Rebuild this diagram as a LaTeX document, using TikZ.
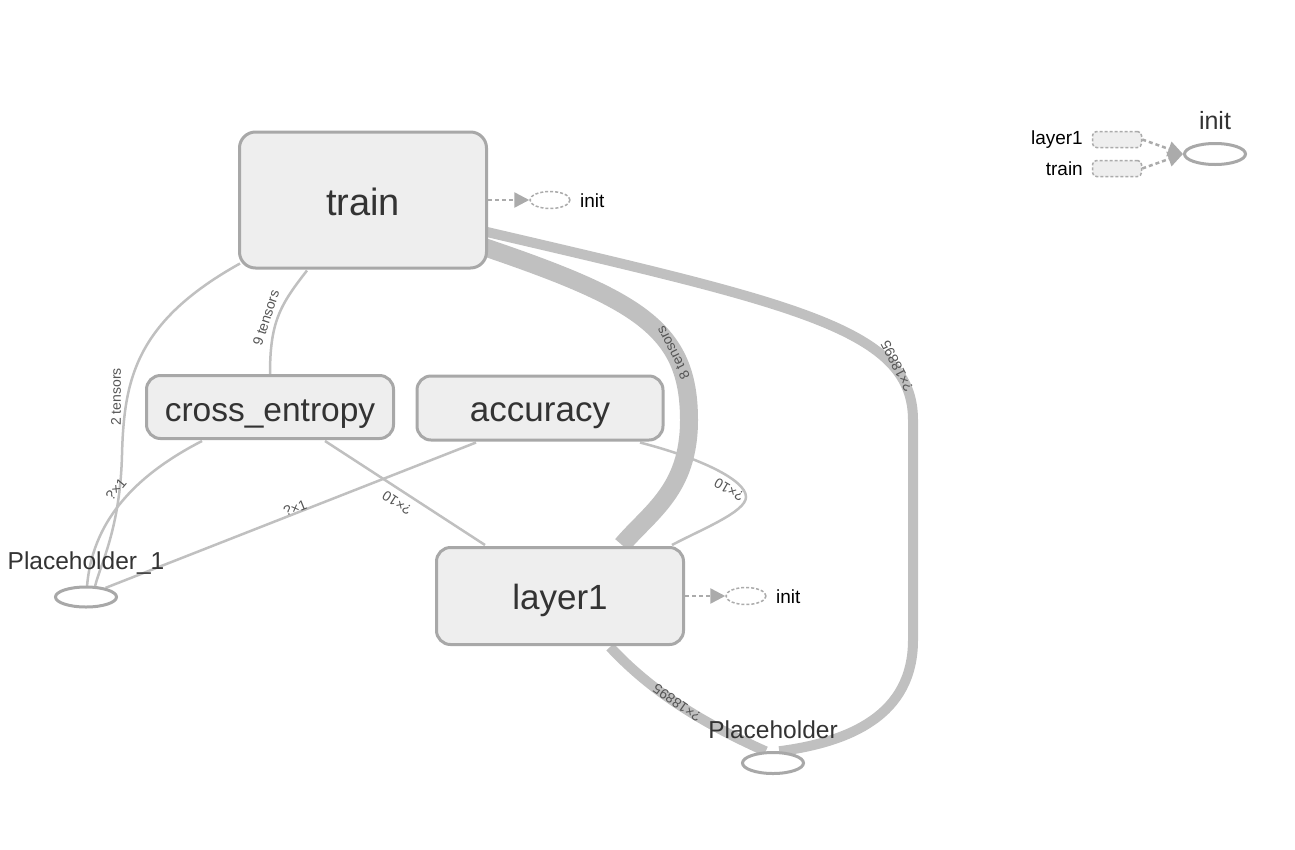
\documentclass[tikz,border=0pt]{standalone}
\usepackage{fontspec}
\setmainfont{Liberation Sans}
\usetikzlibrary{arrows.meta,calc,shapes.geometric}
\definecolor{nodefill}{HTML}{EEEEEE}
\definecolor{nodeborder}{HTML}{A8A8A8}
\definecolor{edgecol}{HTML}{C0C0C0}
\definecolor{txt}{HTML}{333333}
\definecolor{etxt}{HTML}{555555}
\definecolor{dotcol}{HTML}{ABABAB}
\pgfdeclarelayer{edgelayer}
\pgfdeclarelayer{labellayer}
\pgfsetlayers{edgelayer,main,labellayer}
\begin{document}
\begin{tikzpicture}[x=1pt,y=-1pt,
  opnode/.style={draw=nodeborder,fill=nodefill,line width=3pt,rounded corners=14pt,inner sep=0pt,text=txt},
  phnode/.style={ellipse,draw=nodeborder,fill=white,line width=3pt,inner sep=0pt,minimum width=61pt,minimum height=20pt},
  initnode/.style={ellipse,draw=dotcol,fill=white,line width=1.5pt,dash pattern=on 3pt off 2pt,inner sep=0pt,minimum width=40pt,minimum height=17pt},
  lgbox/.style={draw=dotcol,fill=nodefill,line width=1.5pt,dash pattern=on 3pt off 2pt,rounded corners=4pt,inner sep=0pt,minimum width=49pt,minimum height=16pt},
  flow/.style={draw=edgecol,line width=2.5pt},
  elabel/.style={font=\fontsize{14}{14}\selectfont,text=etxt,inner sep=1pt},
  nlabel/.style={font=\fontsize{24.5}{25}\selectfont,text=txt,inner sep=0pt},
  ilabel/.style={font=\fontsize{19}{20}\selectfont,text=black,inner sep=0pt},
  ctrl/.style={draw=dotcol,line width=2.5pt,dash pattern=on 4pt off 3pt,-{Triangle[length=15pt,width=15pt]}},
  trainstyle/.style={opnode,minimum width=247pt,minimum height=136pt,rounded corners=16pt,font=\fontsize{38}{38}\selectfont,text height=30pt,text depth=0pt},
  cestyle/.style={opnode,minimum width=247pt,minimum height=63pt,font=\fontsize{33.5}{34}\selectfont,text height=30pt,text depth=2pt},
  accstyle/.style={opnode,minimum width=246pt,minimum height=64pt,font=\fontsize{35}{35}\selectfont,text height=28pt,text depth=1pt},
  l1style/.style={opnode,minimum width=247pt,minimum height=97pt,font=\fontsize{35}{35}\selectfont,text height=28pt,text depth=2pt},
]
\useasboundingbox (0,0) rectangle (1295,849);
\begin{pgfonlayer}{edgelayer}
\fill[white] (0,0) rectangle (1295,849);
\end{pgfonlayer}

% nodes
\node[trainstyle] (train) at (363,200) {train};
\node[cestyle] (ce) at (270,407) {cross\_entropy};
\node[accstyle] (acc) at (540,408) {accuracy};
\node[l1style] (layer1) at (560,596) {layer1};
\node[phnode] (ph1) at (86,597) {};
\node[phnode,minimum height=21pt] (ph) at (773,763) {};

\begin{pgfonlayer}{edgelayer}
% thin edges
\path[flow] ($(train.south west)+(2,-6)$) .. controls (135,322) and (124,380) .. (122,455)
  .. controls (120,530) and (100,565) .. ($(ph1.north)+(9,1)$);
\path[flow] ($(train.south)+(-56,1)$) .. controls (280,305) and (270,322) .. (ce.north);
\path[flow] ($(ce.south)+(-68,1)$) .. controls (130,478) and (92,525) .. ($(ph1.north)+(1,1)$);
\path[flow] ($(acc.south)+(-64,1)$) -- (ph1.25);
\path[flow] ($(ce.south)+(55,1)$) -- ($(layer1.north)+(-75,-1)$);
\path[flow] ($(acc.south)+(100,1)$) .. controls (700,458) and (746,480) .. (746,497)
  .. controls (746,512) and (700,530) .. ($(layer1.north)+(112,-1)$);
% thick edges
\path[flow,line width=18pt] ($(train.east)+(-4,47)$) .. controls (640,300) and (689,330) .. (689,420)
  .. controls (689,490) and (650,512) .. ($(layer1.north)+(62,-1)$);
\path[flow,line width=10pt] ($(train.east)+(-1,32)$) .. controls (800,305) and (913,330) .. (913,420)
  -- (913,640) .. controls (913,715) and (850,742) .. (ph.62);
\path[flow,line width=10pt] ($(layer1.south)+(50,1)$) .. controls (650,690) and (700,722) .. (ph.122);
\end{pgfonlayer}

\begin{pgfonlayer}{labellayer}
\node[elabel,rotate=90] (l2t) at (116,397) {2 tensors};
\node[elabel,rotate=72] (l9t) at (266,318) {9 tensors};
\node[elabel,rotate=50] (lq1a) at (116,489) {?×1};
\node[elabel,rotate=22] (lq1b) at (295,508) {?×1};
\node[elabel,rotate=147] (lq10a) at (397,503) {?×10};
\node[elabel,rotate=150] (lq10b) at (729,490) {?×10};
\node[elabel,rotate=117] (l8t) at (673,353) {8 tensors};
\node[elabel,rotate=117] (lbig1) at (897,366) {?×18895};
\node[elabel,rotate=145] (lbig2) at (677,703) {?×18895};
\node[nlabel] (ph1lab) at (86,563) {Placeholder\_1};
\node[nlabel] (phlab) at (773,730) {Placeholder};
\end{pgfonlayer}

% init control edges
\node[initnode] (init1) at (550,200) {};
\node[ilabel,anchor=west] (init1lab) at (580,201) {init};
\draw[ctrl] (train.east) -- (init1.west);
\node[initnode] (init2) at (746,596) {};
\node[ilabel,anchor=west] (init2lab) at (776,597) {init};
\draw[ctrl] (layer1.east) -- (init2.west);

% legend
\node[lgbox] (lg1) at (1117,139.5) {};
\node[lgbox] (lg2) at (1117,168.5) {};
\node[ilabel,anchor=east] (lg1lab) at (1083,140) {layer1};
\node[ilabel,anchor=east] (lg2lab) at (1083,169) {train};
\node[phnode,minimum height=21pt] (lginit) at (1215,154) {};
\node[nlabel,font=\fontsize{25}{25}\selectfont] (lginitlab) at (1215,121) {init};
\draw[ctrl] (lg1.east) -- (lginit.west);
\draw[ctrl] (lg2.east) -- (lginit.west);
\end{tikzpicture}
\end{document}
